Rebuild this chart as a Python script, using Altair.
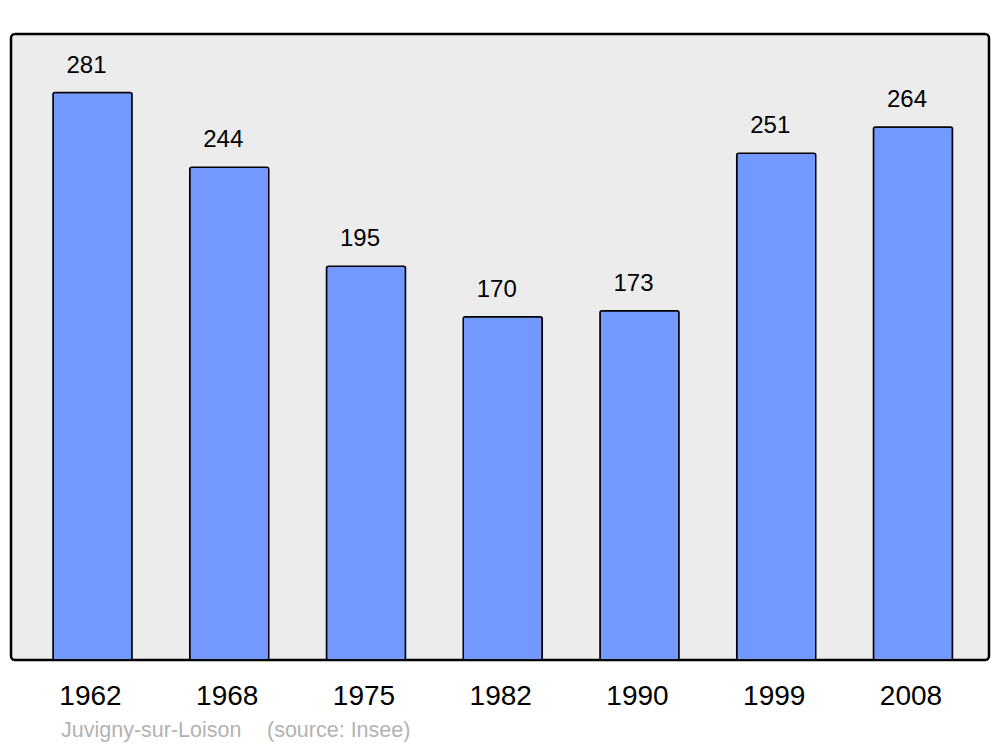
import altair as alt
import pandas as pd

years = ["1962", "1968", "1975", "1982", "1990", "1999", "2008"]
population = [281, 244, 195, 170, 173, 251, 264]
place = "Juvigny-sur-Loison"
source = "(source: Insee)"

df = pd.DataFrame({"year": years, "pop": population})

FONT = "Liberation Sans"

x_enc = alt.X(
    "year:N",
    sort=years,
    scale=alt.Scale(paddingInner=0.422, paddingOuter=0.287, align=0.535),
    axis=alt.Axis(
        title=None, domain=False, ticks=False, labelFontSize=28, labelFont=FONT,
        labelColor="black", labelPadding=22, labelAngle=0, labelOffset=-2,
    ),
)
y_enc = alt.Y("pop:Q", scale=alt.Scale(domain=[0, 310], nice=False), axis=None)

bars = alt.Chart(df).mark_bar(
    color="#7399ff", stroke="black", strokeWidth=1.5, cornerRadius=2
).encode(x=x_enc, y=y_enc)

labels = alt.Chart(df).mark_text(
    baseline="alphabetic", dy=-20, dx=-6, fontSize=24, font=FONT, color="black"
).encode(x=x_enc, y=y_enc, text="pop:Q")

foot1 = alt.Chart(pd.DataFrame({"t": [place]})).mark_text(
    align="left", baseline="alphabetic", fontSize=21.5, font=FONT, color="#b3b3b3"
).encode(x=alt.value(50), y=alt.value(703), text="t:N")

foot2 = alt.Chart(pd.DataFrame({"t": [source]})).mark_text(
    align="left", baseline="alphabetic", fontSize=21.5, font=FONT, color="#b3b3b3"
).encode(x=alt.value(256), y=alt.value(703), text="t:N")

chart = alt.layer(bars, labels, foot1, foot2).properties(
    width=978, height=626,
    background="white",
    autosize=alt.AutoSizeParams(type="none"),
    padding={"left": 3, "top": 26, "right": 3, "bottom": 90},
).configure_view(
    fill="#ececec", stroke="black", strokeWidth=2.5, cornerRadius=4
)

chart.save("out.html", embed_options={"renderer": "svg", "actions": False})
